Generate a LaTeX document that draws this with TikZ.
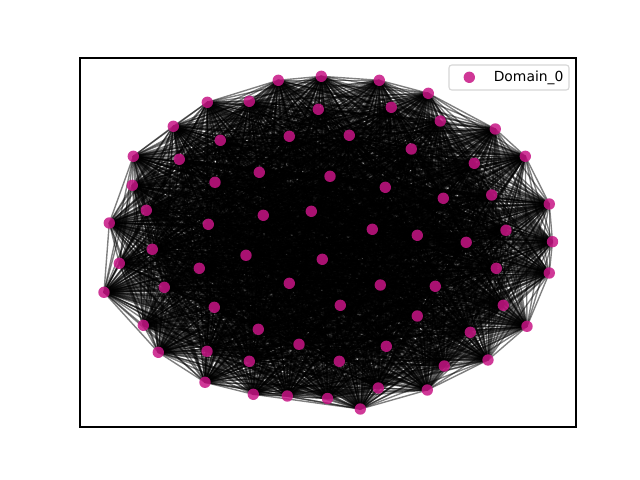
\documentclass[tikz,border=0pt]{standalone}
\usepackage{fontspec}
\setmainfont{DejaVu Sans}
\usetikzlibrary{backgrounds}
\definecolor{nodecol}{RGB}{199,21,133}
\definecolor{legframe}{RGB}{204,204,204}
\begin{document}
\begin{tikzpicture}[x=0.72pt,y=-0.72pt,
  vert/.style={circle,fill=nodecol,fill opacity=0.85,inner sep=0pt,minimum size=8.2pt},
  link/.style={black,opacity=0.5,line width=1pt},
  legbox/.style={draw=legframe,fill=white,fill opacity=0.8,draw opacity=0.8,rounded corners=2pt,line width=0.8pt,minimum width=86.4pt,minimum height=18pt,inner sep=0pt}]
\useasboundingbox (0,0) rectangle (640,480);
\foreach \x/\y [count=\n] in {
278.3/80.3, 321.3/76.3, 249.3/101.3, 207.3/102.3, 318.3/109.3, 173.3/126.3, 289.3/136.3, 220.3/140.3,
133.3/156.3, 179.3/159.3, 259.3/172.3, 132.3/185.3, 215/182.3, 330/176.3, 146.3/210.3, 109.3/223,
208.3/224.3, 263.3/215.3, 311.3/211.3, 379.3/80.3, 428.3/93.3, 391.3/107.3, 440.3/121, 495.3/129,
349.3/135.3, 525.3/156.3, 411.3/149, 474.3/163.3, 385.3/187.3, 491.7/195, 549.3/204, 443.3/198.3,
506/230.3, 372.3/229.3, 417.3/235.3, 552.5/241.7, 466.2/242.3, 152.3/249.3, 119.3/263.3, 199.3/268.3,
246/255.3, 322.3/259.3, 104/292.3, 164.3/287.3, 289.3/283.3, 214.3/307.3, 143.3/325.3, 258.3/329.3,
299/344.3, 158.3/352.3, 207/351.3, 249.3/361.3, 205/382.3, 253.3/394.3, 287.3/396, 327.5/398.5,
496.3/268.3, 549.3/273, 380.3/285, 435.3/286.3, 340.3/305.3, 503.3/305.3, 417.3/316, 527/326.3,
470.3/332.3, 386.3/346.3, 339.3/361.3, 488/360, 444.3/366, 378.3/388, 427.3/390, 360.3/409}
  \node[vert] (n\n) at (\x,\y) {};
\begin{scope}[on background layer]
\foreach \i in {1,...,71}{
  \pgfmathtruncatemacro\k{\i+1}
  \foreach \j in {\k,...,72}{\draw[link] (n\i.center) -- (n\j.center);}
}
\end{scope}
\draw[line width=0.8pt] (80,58) rectangle (576,427);
\node[legbox] (legend) at (509,77.5) {};
\node[vert] (legmark) at (469.3,77.3) {};
\node[anchor=west,inner sep=0pt,font=\fontsize{10}{12}\selectfont] (legtext) at (493.5,77.5) {Domain\_0};
\end{tikzpicture}
\end{document}
